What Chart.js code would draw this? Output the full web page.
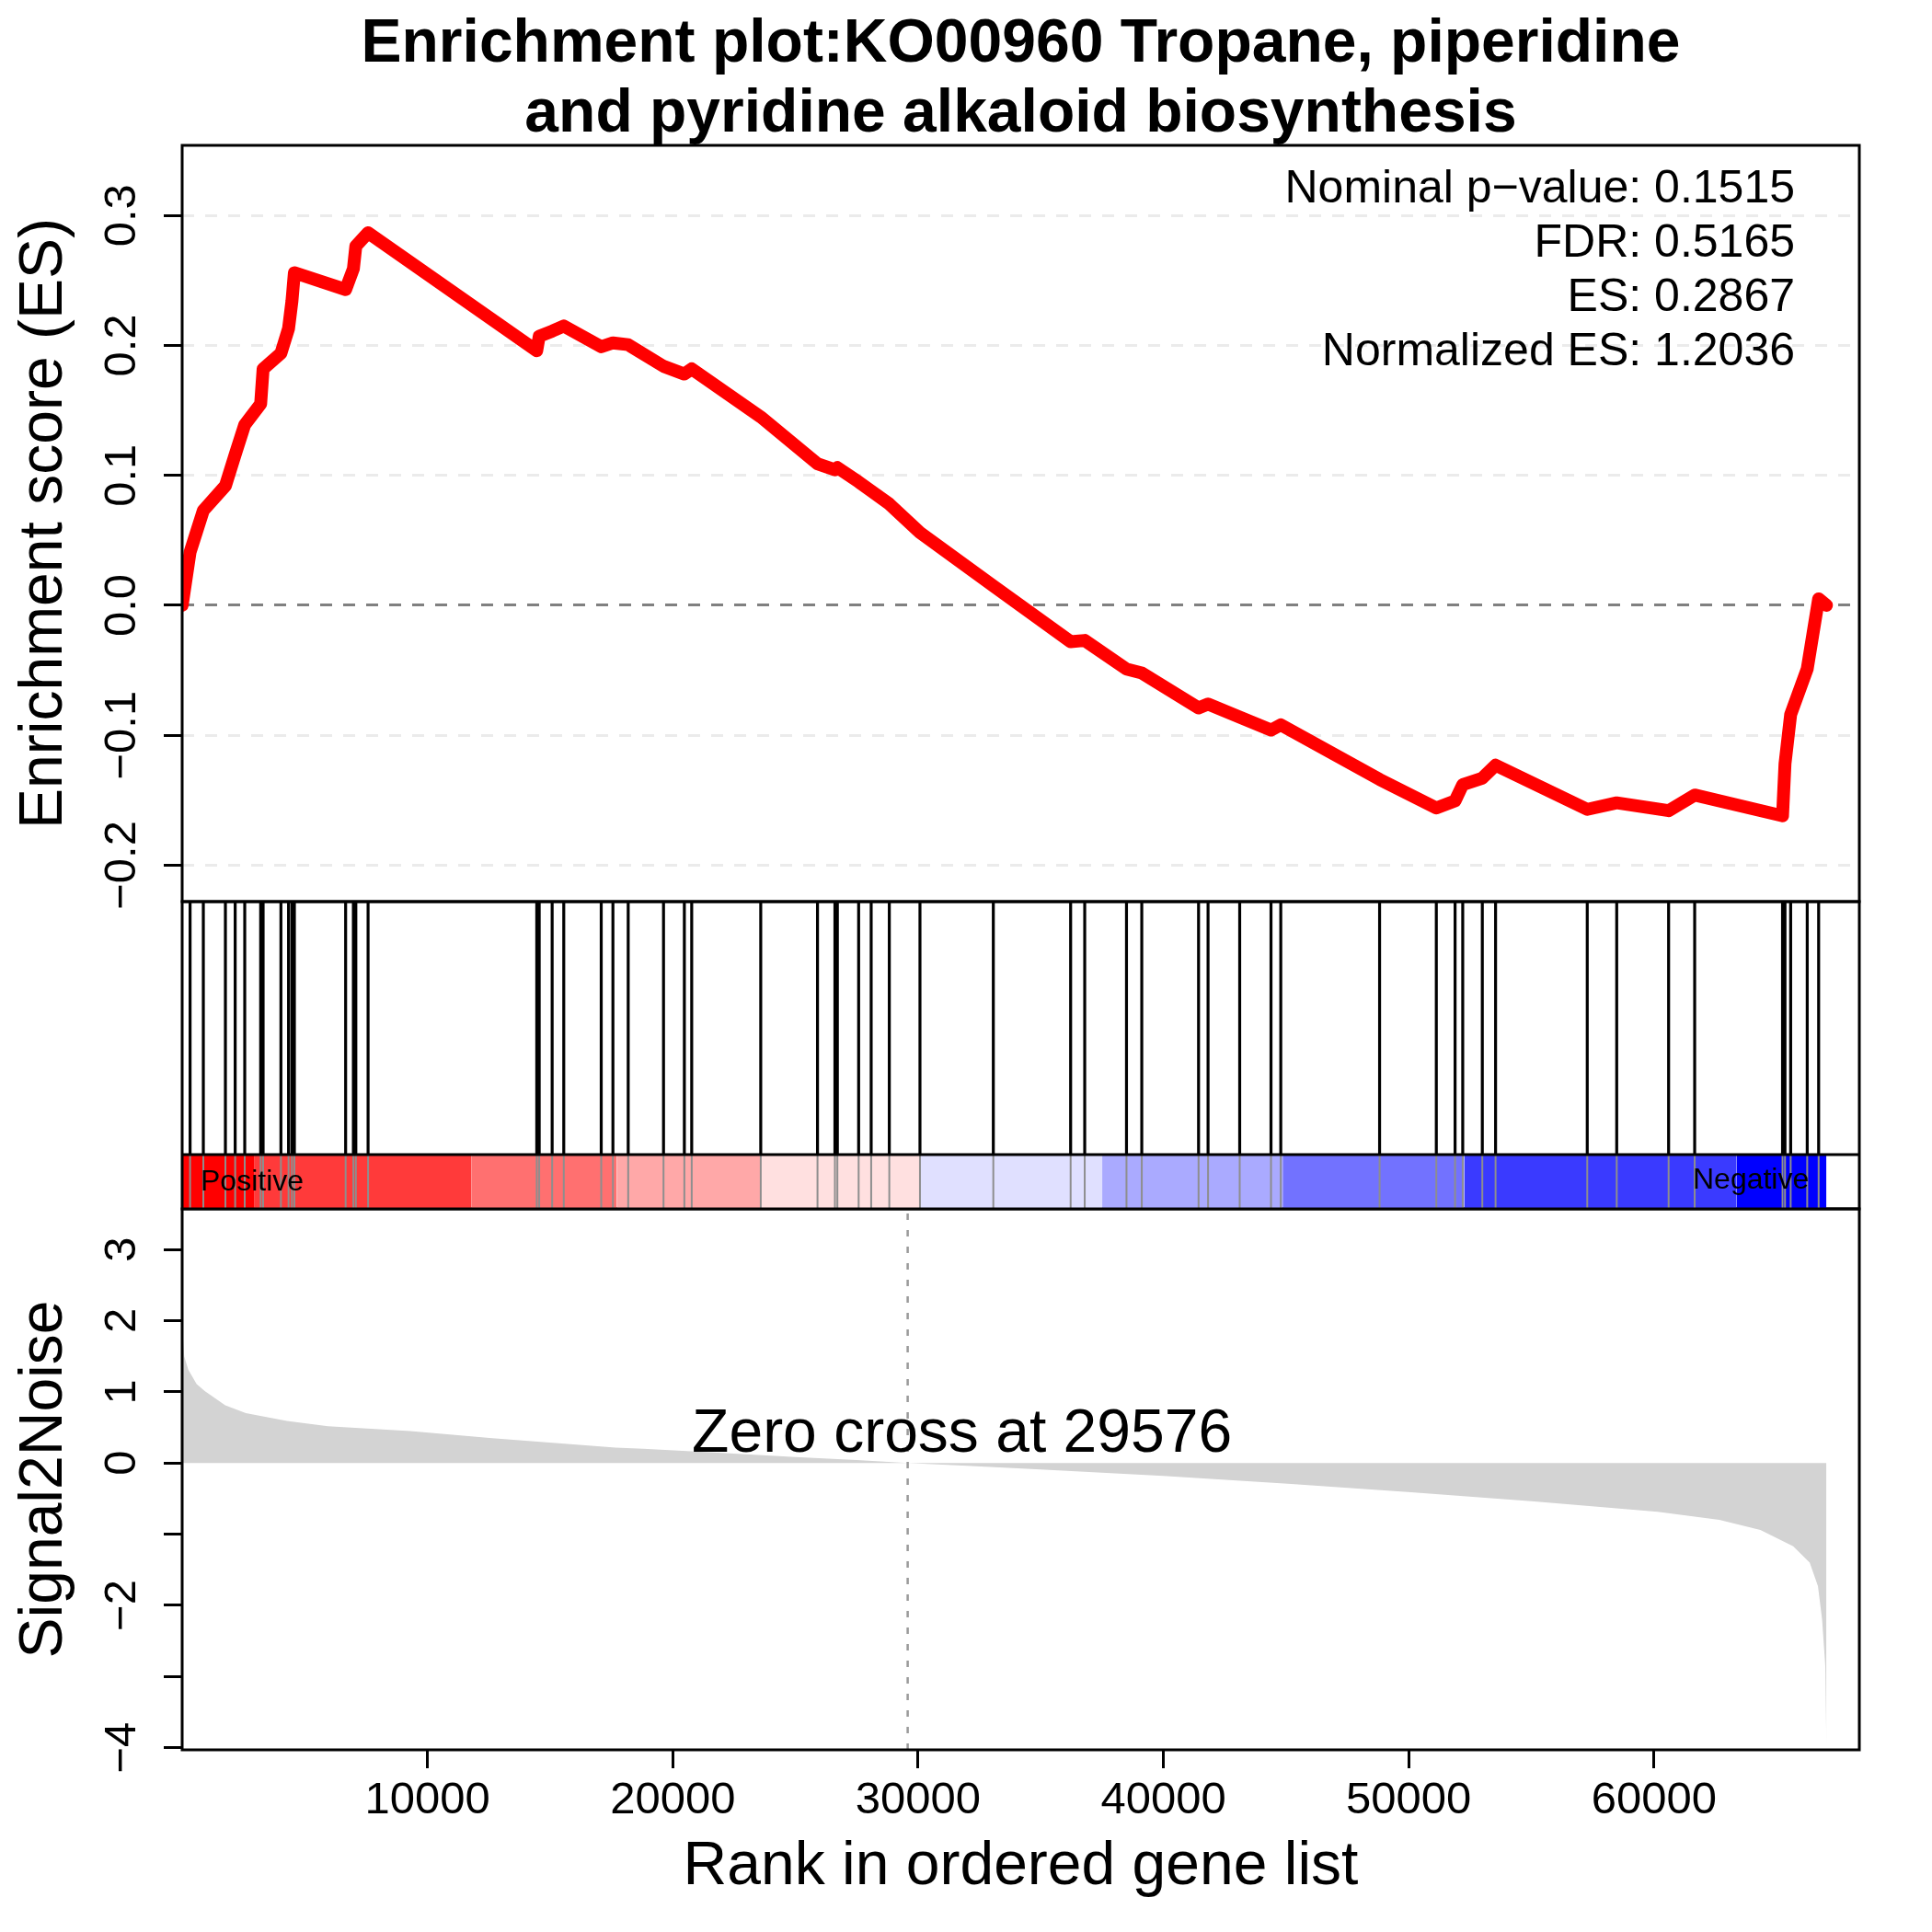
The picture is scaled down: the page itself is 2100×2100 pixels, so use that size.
<!DOCTYPE html>
<html>
<head>
<meta charset="utf-8">
<script src="https://cdn.jsdelivr.net/npm/chart.js@4.4.0/dist/chart.umd.min.js"></script>
<style>
  html, body { margin: 0; padding: 0; background: #fff; }
  #wrap { position: relative; width: 2100px; height: 2100px; background: #fff; }
  #wrap canvas { position: absolute; left: 0; top: 0; }
</style>
</head>
<body>
<div id="wrap">
  <canvas id="metricChart" width="2100" height="2100"></canvas>
  <canvas id="hitChart" width="2100" height="2100"></canvas>
  <canvas id="esChart" width="2100" height="2100"></canvas>
</div>
<script>
var titleLines = ['Enrichment plot:KO00960 Tropane, piperidine', 'and pyridine alkaloid biosynthesis']
var statLines = ['Nominal p\u2212value: 0.1515', 'FDR: 0.5165', 'ES: 0.2867', 'Normalized ES: 1.2036']

var nGenes = 67030
var zeroCross = 29576

// running enrichment score, read at each hit
var esRank = [0, 323, 863, 1763, 2161, 2551, 3200, 3300, 4026, 4337, 4475, 4575, 6664, 6980, 7080, 7579,
  14455, 14555, 15083, 15556, 17083, 17560, 18183, 19623, 20472, 20772, 23586, 25900, 26610, 26710,
  27577, 28088, 28827, 30077, 33067, 36219, 36793, 38496, 39119, 41434, 41821, 43111, 44387, 44785,
  48814, 51126, 51891, 52203, 53001, 53542, 57279, 58480, 60596, 61658, 65240, 65340, 65571, 66246, 66712, 67030]
var esValue = [0, 0.041, 0.073, 0.092, 0.116, 0.139, 0.155, 0.182, 0.194, 0.213, 0.234, 0.256, 0.243, 0.259, 0.2765, 0.2867,
  0.196, 0.207, 0.211, 0.215, 0.199, 0.202, 0.2006, 0.184, 0.178, 0.182, 0.145, 0.109, 0.1043, 0.106,
  0.095, 0.088, 0.078, 0.056, 0.015, -0.028, -0.027, -0.049, -0.052, -0.079, -0.076, -0.086, -0.096, -0.092,
  -0.134, -0.156, -0.1505, -0.138, -0.133, -0.123, -0.157, -0.152, -0.158, -0.146, -0.162, -0.122, -0.084, -0.049, 0.005, 0.0]

// gene set members in the ranked list
var hitRank = [323, 863, 1763, 2161, 2551, 3200, 3300, 4026, 4337, 4475, 4575, 6664, 6980, 7080, 7579,
  14455, 14555, 15083, 15556, 17083, 17560, 18183, 19623, 20472, 20772, 23586, 25900, 26610, 26710,
  27577, 28088, 28827, 30077, 33067, 36219, 36793, 38496, 39119, 41434, 41821, 43111, 44387, 44785,
  48814, 51126, 51891, 52203, 53001, 53542, 57279, 58480, 60596, 61658, 65240, 65340, 65571, 66246, 66712]

var colorBreaks = [0, 2927, 11781, 17710, 23586, 30050, 37506, 44861, 52266, 63357, 67030]
var colorFill = ['#ff0000', '#ff3a3a', '#ff7070', '#ffa8a8', '#ffe0e0', '#e0e0ff', '#aaaaff', '#7272ff', '#3a3aff', '#0000ff']

// ranked list metric
var metricRank = [1, 83, 250, 585, 920, 1757, 2596, 4270, 5944, 9294, 12644, 17669, 18800, 22000, 25000, 27500, 29576,
  32000, 35000, 40000, 45074, 50098, 55125, 60150, 62662, 64337, 65676, 66348, 66683, 66851, 66983, 67030]
var metricValue = [1.95, 1.5, 1.31, 1.11, 1.01, 0.81, 0.70, 0.59, 0.515, 0.45, 0.35, 0.217, 0.2, 0.14, 0.085, 0.04, 0,
  -0.04, -0.09, -0.18, -0.29, -0.41, -0.54, -0.687, -0.80, -0.94, -1.17, -1.40, -1.73, -2.19, -2.85, -4.0]

var esTicks = [-0.2, -0.1, 0, 0.1, 0.2, 0.3]
var metricTicks = [-4, -3, -2, -1, 0, 1, 2, 3]
var metricTickLabels = ['\u22124', '', '\u22122', '', '0', '1', '2', '3']
var rankTicks = [10000, 20000, 30000, 40000, 50000, 60000]

var xMax = 68370

Chart.defaults.font.family = '"Liberation Sans", Arial, Helvetica, sans-serif'
Chart.defaults.color = '#000'
Chart.defaults.animation = false

var framePlugin = {
  id: 'frame',
  afterDraw: function(chart) {
    var a = chart.chartArea, ctx = chart.ctx
    ctx.save()
    ctx.strokeStyle = '#000'
    ctx.lineWidth = 3
    ctx.strokeRect(a.left, a.top, a.right - a.left, a.bottom - a.top)
    ctx.restore()
  }
}

function fmtEs(v) {
  if (Math.abs(v) < 1e-9) return '0.0'
  return (v < 0 ? '\u2212' : '') + Math.abs(v).toFixed(1)
}

// ---- enrichment score panel ----
var statsPlugin = {
  id: 'stats',
  afterDatasetsDraw: function(chart) {
    var ctx = chart.ctx, a = chart.chartArea
    ctx.save()
    ctx.font = '50px "Liberation Sans", Arial, sans-serif'
    ctx.fillStyle = '#000'
    ctx.textAlign = 'right'
    ctx.textBaseline = 'alphabetic'
    for (var i = 0; i < statLines.length; i++) {
      ctx.fillText(statLines[i], a.right - 70, a.top + 62 + i * 59)
    }
    ctx.restore()
  }
}

var esData = []
for (let i in esRank) esData.push({x: esRank[i], y: esValue[i]})

new Chart(document.getElementById('esChart'), {
  type: 'line',
  data: {
    datasets: [{
      data: esData,
      borderColor: '#ff0000',
      borderWidth: 14,
      borderJoinStyle: 'round',
      borderCapStyle: 'round',
      pointRadius: 0,
      tension: 0,
      fill: false
    }]
  },
  options: {
    responsive: false,
    animation: false,
    layout: {padding: {left: 0, right: 79, top: 0, bottom: 1120}},
    plugins: {
      legend: {display: false},
      tooltip: {enabled: false},
      title: {
        display: true,
        text: titleLines,
        fullSize: false,
        color: '#000',
        font: {size: 66, weight: 'bold', lineHeight: 1.1515},
        padding: {top: 10.5, bottom: -4.5}
      }
    },
    scales: {
      x: {type: 'linear', display: false, min: 0, max: xMax},
      y: {
        min: -0.228, max: 0.354,
        afterBuildTicks: function(s) { s.ticks = esTicks.map(v => ({value: v})) },
        afterFit: function(s) { s.width = 198 },
        ticks: {
          minRotation: 90, maxRotation: 90, crossAlign: 'center', padding: -4, autoSkip: false,
          color: '#000', font: {size: 49},
          callback: function(v) { return fmtEs(v) }
        },
        grid: {
          drawOnChartArea: true, drawTicks: true, tickLength: 20, tickColor: '#000', tickWidth: 3,
          tickBorderDash: [], lineWidth: 3,
          color: function(c) { return c.tick && Math.abs(c.tick.value) < 1e-9 ? '#808080' : '#ebebeb' }
        },
        border: {display: false, dash: [13, 12]},
        title: {display: true, text: 'Enrichment score (ES)', color: '#000', font: {size: 66}, padding: {top: 9, bottom: 0}}
      }
    }
  },
  plugins: [statsPlugin, framePlugin]
})

// ---- hits and colour bar panel ----
var hitMin = -0.2145
var blackHits = [], grayHits = []
for (let i in hitRank) {
  blackHits.push({x: hitRank[i], y: 0}, {x: hitRank[i], y: 1}, {x: hitRank[i], y: null})
  grayHits.push({x: hitRank[i], y: hitMin}, {x: hitRank[i], y: 0}, {x: hitRank[i], y: null})
}

var hitSets = [
  {data: [{x: 0, y: 0}, {x: xMax, y: 0}], borderColor: '#000', borderWidth: 3},
  {data: blackHits, borderColor: '#000', borderWidth: 3.2, spanGaps: false},
  {data: grayHits, borderColor: '#8e8e8e', borderWidth: 2, spanGaps: false}
]
for (let i in colorFill) {
  hitSets.push({
    data: [{x: colorBreaks[i], y: 0}, {x: colorBreaks[+i + 1], y: 0}],
    borderWidth: 0,
    borderColor: colorFill[i],
    backgroundColor: colorFill[i],
    fill: 'start'
  })
}
hitSets.forEach(function(d) { d.pointRadius = 0; d.tension = 0; if (d.fill === undefined) d.fill = false })

var barLabelPlugin = {
  id: 'barLabels',
  afterDatasetsDraw: function(chart) {
    var ctx = chart.ctx, a = chart.chartArea, xs = chart.scales.x
    ctx.save()
    ctx.font = '32px "Liberation Sans", Arial, sans-serif'
    ctx.fillStyle = '#000'
    ctx.textBaseline = 'middle'
    ctx.textAlign = 'left'
    ctx.fillText('Positive', a.left + 20, a.bottom - 29)
    ctx.textAlign = 'right'
    ctx.fillText('Negative', xs.getPixelForValue(nGenes) - 19, a.bottom - 31)
    ctx.restore()
  }
}

new Chart(document.getElementById('hitChart'), {
  type: 'line',
  data: {datasets: hitSets},
  options: {
    responsive: false,
    animation: false,
    layout: {padding: {left: 198, right: 79, top: 980, bottom: 786}},
    plugins: {legend: {display: false}, tooltip: {enabled: false}},
    scales: {
      x: {type: 'linear', display: false, min: 0, max: xMax},
      y: {display: false, min: hitMin, max: 1}
    }
  },
  plugins: [barLabelPlugin, framePlugin]
})

// ---- ranked list metric panel ----
var metricData = []
for (let i in metricRank) metricData.push({x: metricRank[i], y: metricValue[i]})

var zeroTextPlugin = {
  id: 'zeroText',
  afterDatasetsDraw: function(chart) {
    var ctx = chart.ctx, xs = chart.scales.x, ys = chart.scales.y
    ctx.save()
    ctx.font = '66px "Liberation Sans", Arial, sans-serif'
    ctx.fillStyle = '#000'
    ctx.textAlign = 'center'
    ctx.textBaseline = 'alphabetic'
    ctx.fillText('Zero cross at ' + zeroCross, xs.getPixelForValue(zeroCross) + 59, ys.getPixelForValue(0) - 12)
    ctx.restore()
  }
}

new Chart(document.getElementById('metricChart'), {
  type: 'line',
  data: {
    datasets: [
      {
        data: [{x: zeroCross, y: -4.03}, {x: zeroCross, y: 3.57}],
        borderColor: '#9a9a9a', borderWidth: 2.5, borderDash: [7, 11],
        pointRadius: 0, fill: false
      },
      {
        data: metricData,
        borderWidth: 0,
        borderColor: '#d3d3d3',
        backgroundColor: '#d3d3d3',
        pointRadius: 0,
        tension: 0,
        fill: 'origin'
      }
    ]
  },
  options: {
    responsive: false,
    animation: false,
    layout: {padding: {left: 0, right: 79, top: 1314, bottom: 0}},
    plugins: {legend: {display: false}, tooltip: {enabled: false}},
    scales: {
      x: {
        type: 'linear', min: 0, max: xMax,
        afterBuildTicks: function(s) { s.ticks = rankTicks.map(v => ({value: v})) },
        afterFit: function(s) { s.height = 198 },
        ticks: {color: '#000', font: {size: 49}, padding: 6, maxRotation: 0, autoSkip: false,
          callback: function(v) { return String(v) }},
        grid: {drawOnChartArea: false, drawTicks: true, tickLength: 20, tickColor: '#000', tickWidth: 3},
        border: {display: false},
        title: {display: true, text: 'Rank in ordered gene list', color: '#000', font: {size: 66}, padding: {top: 0, bottom: 31}}
      },
      y: {
        min: -4.03, max: 3.57,
        afterBuildTicks: function(s) { s.ticks = metricTicks.map(v => ({value: v})) },
        afterFit: function(s) { s.width = 198 },
        ticks: {
          minRotation: 90, maxRotation: 90, crossAlign: 'center', padding: 17, autoSkip: false,
          color: '#000', font: {size: 49},
          callback: function(v) { return metricTickLabels[metricTicks.indexOf(v)] }
        },
        grid: {drawOnChartArea: false, drawTicks: true, tickLength: 20, tickColor: '#000', tickWidth: 3},
        border: {display: false},
        title: {display: true, text: 'Signal2Noise', color: '#000', font: {size: 66}, padding: {top: 9, bottom: 0}}
      }
    }
  },
  plugins: [zeroTextPlugin, framePlugin]
})
</script>
</body>
</html>
